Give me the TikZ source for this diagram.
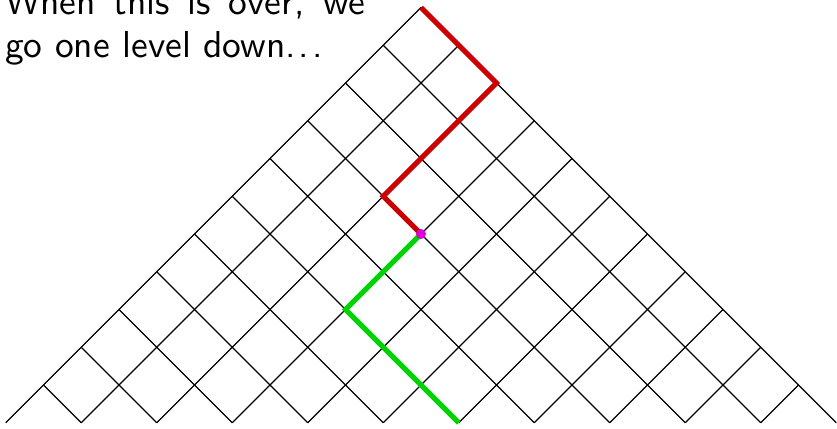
\documentclass[tikz,border=0pt]{standalone}
\usepackage{fontspec}
\newfontfamily\slidefont{lmsans10-regular.otf}
\definecolor{pathred}{RGB}{204,0,0}
\definecolor{pathgreen}{RGB}{0,212,0}
\definecolor{dotmag}{RGB}{220,0,220}
\newcommand\mydots{.\kern0.08em.\kern0.08em.}
\begin{document}
\begin{tikzpicture}[x=1pt,y=-1pt,
  gridline/.style={line width=1.1pt,black},
  redpath/.style={line width=5pt,draw=pathred,line join=miter},
  greenpath/.style={line width=5pt,draw=pathgreen,line join=miter},
  txt/.style={anchor=base west,inner sep=0pt,font=\slidefont\fontsize{37.5}{45}\selectfont}]
\useasboundingbox (0,0) rectangle (837,428);
\def\s{37.75}
\foreach \i in {0,...,11}{
  \foreach \j in {0,...,11}{
    \pgfmathtruncatemacro\k{\i+\j}
    \ifnum\k<12
      \coordinate (p-\i-\j) at ({421+(\j-\i)*\s},{7.5+(\i+\j)*\s});
    \fi
  }
}
\foreach \i in {0,...,10}{
  \pgfmathtruncatemacro\e{11-\i}
  \draw[gridline] (p-\i-0) -- (p-\i-\e);
}
\foreach \j in {0,...,10}{
  \pgfmathtruncatemacro\e{11-\j}
  \draw[gridline] (p-0-\j) -- (p-\e-\j);
}
\draw[redpath] (p-0-0) -- (p-0-2) -- (p-3-2) -- (p-3-3);
\draw[greenpath] (p-3-3) -- (p-5-3) -- (p-5-6);
\fill[dotmag] (p-3-3) circle (5);
\node[txt] (t1) at (5,15) {\makebox[360pt][s]{When this is over, we}};
\node[txt] (t2) at (5,57) {go one level down\mydots};
\end{tikzpicture}
\end{document}
